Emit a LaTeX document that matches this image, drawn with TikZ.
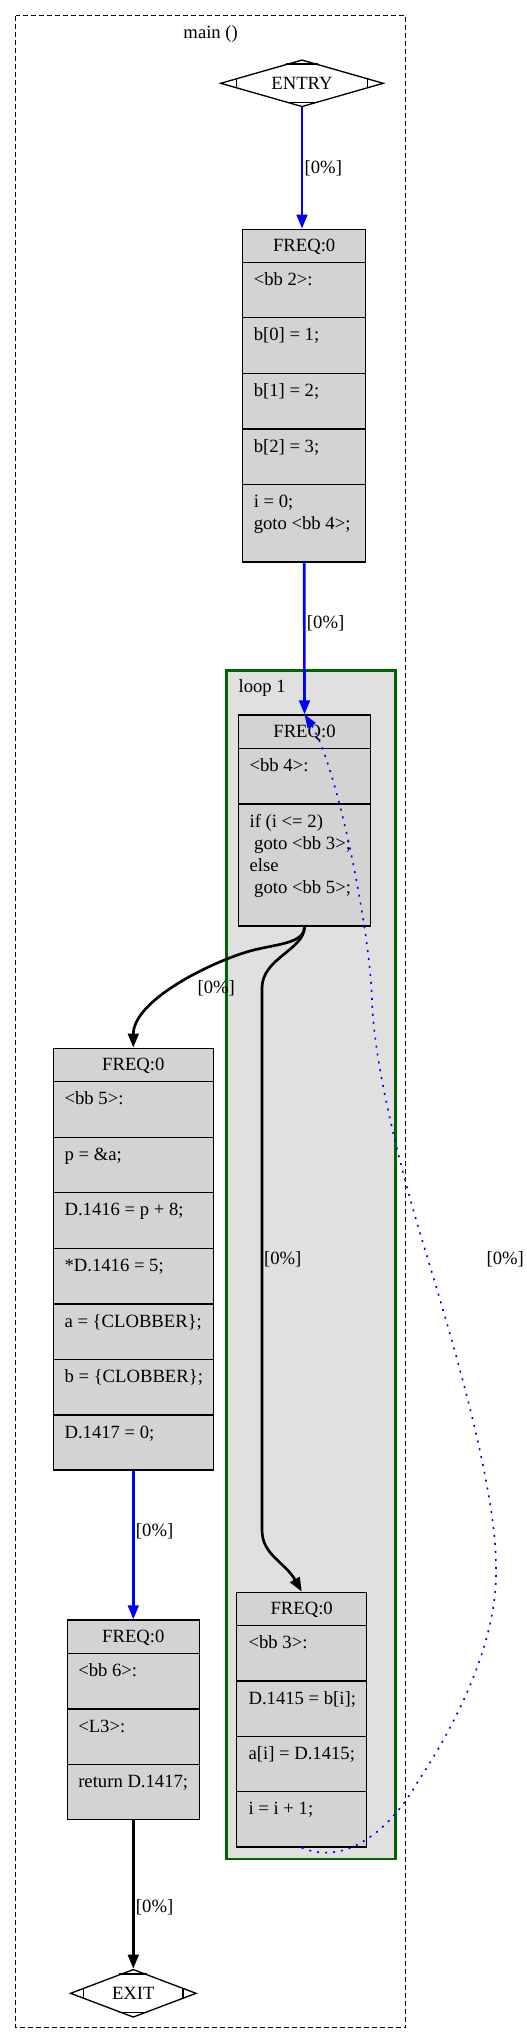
\documentclass[tikz,border=0pt]{standalone}
\usepackage{fontspec}
\setmainfont{Liberation Serif}
\usetikzlibrary{arrows.meta,shapes.geometric,calc,fit}

\begin{document}
\begin{tikzpicture}[x=0.75pt,y=-0.75pt,
  every node/.style={font=\fontsize{14}{16.8}\selectfont},
  rec/.style={draw=black,fill=recgray,line width=1pt,inner sep=0pt},
  mdia/.style={diamond,draw=black,line width=1pt,inner sep=0pt},
  sep/.style={line width=1pt},
  txt/.style={anchor=base west,inner sep=0pt},
  hdr/.style={anchor=base,inner sep=0pt},
  lbl/.style={anchor=west,inner sep=1pt,text=black},
  tedge/.style={line width=2pt,-{Triangle[length=10.5pt,width=8pt]}},
  backedge/.style={blue,line width=1.2pt,dash pattern=on 1.5pt off 4.5pt,-{Triangle[length=10pt,width=7pt]}}]
  \definecolor{recgray}{RGB}{211,211,211}
  \definecolor{loopgray}{RGB}{224,224,224}
  \definecolor{loopgreen}{RGB}{0,100,0}
  \useasboundingbox (0,0) rectangle (527,2044);
  % clusters
  \draw[line width=1pt,dash pattern=on 3.75pt off 2.25pt] (15.7,15.7) rectangle (405.7,2027.7);
  \node[hdr] (mainlbl) at (210.7,38.3) {main ()};
  \draw[fill=loopgray,draw=loopgreen,line width=2pt] (226.5,670.7) rectangle (395.3,1859);
  \node[txt] (looplbl) at (238.3,692.5) {loop 1};
  % entry and exit
  \node[mdia,shape aspect=3.5,minimum width=122.25pt,minimum height=35.25pt] (entry) at (302,83.3) {ENTRY};
  \draw[line width=1pt] ($(entry.west)!0.2!(entry.north)$) -- ($(entry.west)!0.2!(entry.south)$);
  \draw[line width=1pt] ($(entry.east)!0.2!(entry.north)$) -- ($(entry.east)!0.2!(entry.south)$);
  \draw[line width=1pt] ($(entry.north)!0.2!(entry.west)$) -- ($(entry.north)!0.2!(entry.east)$);
  \draw[line width=1pt] ($(entry.south)!0.2!(entry.west)$) -- ($(entry.south)!0.2!(entry.east)$);
  \node[mdia,shape aspect=2.6,minimum width=94.5pt,minimum height=36pt] (exit) at (133.3,1993.3) {EXIT};
  \draw[line width=1pt] ($(exit.west)!0.22!(exit.north)$) -- ($(exit.west)!0.22!(exit.south)$);
  \draw[line width=1pt] ($(exit.east)!0.22!(exit.north)$) -- ($(exit.east)!0.22!(exit.south)$);
  \draw[line width=1pt] ($(exit.north)!0.22!(exit.west)$) -- ($(exit.north)!0.22!(exit.east)$);
  \draw[line width=1pt] ($(exit.south)!0.22!(exit.west)$) -- ($(exit.south)!0.22!(exit.east)$);
  % bb 2
  \node[rec,fit={(242.7,229.3) (365.7,562)}] (bb2) {};
  \draw[sep] (242.7,262.3) -- (365.7,262.3);
  \draw[sep] (242.7,317.7) -- (365.7,317.7);
  \draw[sep] (242.7,373.3) -- (365.7,373.3);
  \draw[sep] (242.7,429) -- (365.7,429);
  \draw[sep] (242.7,484.3) -- (365.7,484.3);
  \node[hdr] (bb2h) at (304.2,251.8) {FREQ:0};
  \node[txt] (bb2a) at (253.5,285.3) {<bb 2>:};
  \node[txt] (bb2b) at (253.5,340.7) {b[0] = 1;};
  \node[txt] (bb2c) at (253.5,396.3) {b[1] = 2;};
  \node[txt] (bb2d) at (253.5,452) {b[2] = 3;};
  \node[txt] (bb2e) at (253.5,507.3) {i = 0;};
  \node[txt] (bb2f) at (253.5,529.6) {goto <bb 4>;};
  % bb 4
  \node[rec,fit={(238.3,715) (370.7,926)}] (bb4) {};
  \draw[sep] (238.3,748.3) -- (370.7,748.3);
  \draw[sep] (238.3,804) -- (370.7,804);
  \node[hdr] (bb4h) at (304.5,737.5) {FREQ:0};
  \node[txt] (bb4a) at (249.3,771.3) {<bb 4>:};
  \node[txt] (bb4b) at (249.3,827) {if (i <= 2)};
  \node[txt] (bb4c) at (249.3,849.3) {\ goto <bb 3>;};
  \node[txt] (bb4d) at (249.3,871.6) {else};
  \node[txt] (bb4e) at (249.3,893.9) {\ goto <bb 5>;};
  % bb 5
  \node[rec,fit={(53.3,1048.3) (213.3,1470)}] (bb5) {};
  \draw[sep] (53.3,1081.7) -- (213.3,1081.7);
  \draw[sep] (53.3,1137.3) -- (213.3,1137.3);
  \draw[sep] (53.3,1192.7) -- (213.3,1192.7);
  \draw[sep] (53.3,1248.3) -- (213.3,1248.3);
  \draw[sep] (53.3,1304) -- (213.3,1304);
  \draw[sep] (53.3,1359.3) -- (213.3,1359.3);
  \draw[sep] (53.3,1415) -- (213.3,1415);
  \node[hdr] (bb5h) at (133.3,1070.8) {FREQ:0};
  \node[txt] (bb5a) at (64.3,1104.7) {<bb 5>:};
  \node[txt] (bb5b) at (64.3,1160.3) {p = \&a;};
  \node[txt] (bb5c) at (64.3,1215.7) {D.1416 = p + 8;};
  \node[txt] (bb5d) at (64.3,1271.3) {*D.1416 = 5;};
  \node[txt] (bb5e) at (64.3,1327) {a = \{CLOBBER\};};
  \node[txt] (bb5f) at (64.3,1382.3) {b = \{CLOBBER\};};
  \node[txt] (bb5g) at (64.3,1438) {D.1417 = 0;};
  % bb 6
  \node[rec,fit={(67.3,1620) (199.3,1819.3)}] (bb6) {};
  \draw[sep] (67.3,1653.3) -- (199.3,1653.3);
  \draw[sep] (67.3,1709) -- (199.3,1709);
  \draw[sep] (67.3,1764.3) -- (199.3,1764.3);
  \node[hdr] (bb6h) at (133.3,1642.5) {FREQ:0};
  \node[txt] (bb6a) at (78,1676.3) {<bb 6>:};
  \node[txt] (bb6b) at (78,1732) {<L3>:};
  \node[txt] (bb6c) at (78,1787.3) {return D.1417;};
  % bb 3
  \node[rec,fit={(236.7,1592.3) (366.7,1847)}] (bb3) {};
  \draw[sep] (236.7,1625.7) -- (366.7,1625.7);
  \draw[sep] (236.7,1681) -- (366.7,1681);
  \draw[sep] (236.7,1736.7) -- (366.7,1736.7);
  \draw[sep] (236.7,1791.7) -- (366.7,1791.7);
  \node[hdr] (bb3h) at (301.7,1614.8) {FREQ:0};
  \node[txt] (bb3a) at (248.3,1648.7) {<bb 3>:};
  \node[txt] (bb3b) at (248.3,1704) {D.1415 = b[i];};
  \node[txt] (bb3c) at (248.3,1759.7) {a[i] = D.1415;};
  \node[txt] (bb3d) at (248.3,1814.7) {i = i + 1;};
  % edges
  \draw[tedge,blue] (entry.south) -- (entry.south |- bb2.north) node[lbl,pos=0.5] (e1) {[0\%]};
  \draw[tedge,blue] (bb2.south) -- (bb4.north) node[lbl,pos=0.4] (e2) {[0\%]};
  \draw[tedge] (bb4.south) .. controls (304.5,944) and (275,944) .. (250,951)
    .. controls (211.6,961.8) and (133.3,1000) .. (bb5.north);
  \node[lbl] (e3) at (196,988.3) {[0\%]};
  \draw[tedge] (bb4.south) .. controls (304.5,950) and (262,958) .. (262,988) -- (262,1530)
    .. controls (262,1555) and (285,1562) .. (bb3.north);
  \node[lbl] (e4) at (262.5,1259) {[0\%]};
  \draw[tedge,blue] (bb5.south) -- (bb6.north) node[lbl,pos=0.41] (e5) {[0\%]};
  \draw[tedge] (bb6.south) -- (exit.north) node[lbl,pos=0.59] (e6) {[0\%]};
  \draw[backedge] (bb3.south) .. controls (350,1868) and (395,1822) .. (417,1783)
    .. controls (458,1721) and (498,1640) .. (496,1567)
    .. controls (496,1480) and (446,1319) .. (420,1233)
    .. controls (405.5,1185) and (374,1070) .. (372,1000)
    .. controls (370,930) and (337,765) .. (bb4.north);
  \node[lbl] (e7) at (485,1259) {[0\%]};
\end{tikzpicture}
\end{document}
